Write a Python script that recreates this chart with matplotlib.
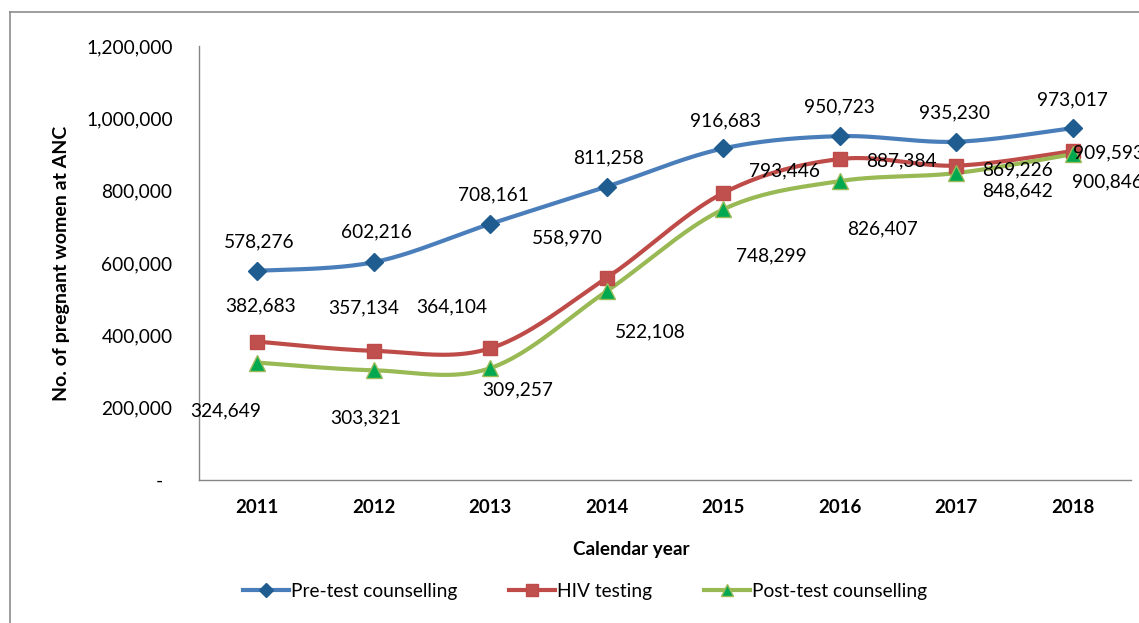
import numpy as np
import matplotlib
matplotlib.use("Agg")
import matplotlib.pyplot as plt
from matplotlib.lines import Line2D
from matplotlib.ticker import FuncFormatter

plt.rcParams["font.family"] = ["Lato", "DejaVu Sans"]

years = ["2011", "2012", "2013", "2014", "2015", "2016", "2017", "2018"]
pre_test = [578276, 602216, 708161, 811258, 916683, 950723, 935230, 973017]
hiv_testing = [382683, 357134, 364104, 558970, 793446, 887384, 869226, 909593]
post_test = [324649, 303321, 309257, 522108, 748299, 826407, 848642, 900846]
series_names = ["Pre-test counselling", "HIV testing", "Post-test counselling"]
y_ticks = [0, 200000, 400000, 600000, 800000, 1000000, 1200000]

# label placement (pixels, x right / y up) relative to each point
pre_off = [(2, 29), (3, 30), (3, 29), (2, 29), (2, 28), (0, 29), (-2, 29), (0, 28)]
hiv_off = [(3, 36), (-10, 43), (-38, 41), (-39, 40), (61, 22), (62, -2), (61, -4), (36, -2)]
post_off = [(-32, -48), (-8, -48), (27, -22), (44, -41), (48, -47), (43, -48), (61, -18), (35, -28)]


def smooth(x, y, n=40):
    """Cubic Bezier smoothing through the points (Catmull-Rom style)."""
    pts = np.column_stack([x, y]).astype(float)
    out = []
    for i in range(len(pts) - 1):
        p0 = pts[i - 1] if i > 0 else pts[i]
        p1, p2 = pts[i], pts[i + 1]
        p3 = pts[i + 2] if i + 2 < len(pts) else pts[i + 1]
        c1 = p1 + (p2 - p0) / 6.0
        c2 = p2 - (p3 - p1) / 6.0
        t = np.linspace(0, 1, n)[:, None]
        seg = (1 - t) ** 3 * p1 + 3 * (1 - t) ** 2 * t * c1 + 3 * (1 - t) * t ** 2 * c2 + t ** 3 * p2
        out.append(seg if i == 0 else seg[1:])
    return np.vstack(out)


W, H = 1139, 623
fig = plt.figure(figsize=(W / 100, H / 100), dpi=100)
ax = fig.add_axes([199 / W, 1 - 480 / H, 932 / W, 434 / H])

x = np.arange(len(years))
styles = [
    dict(color="#4A7EBB", marker="D", mfc="#1F5C8F", mec="#1F5C8F", ms=9.5),
    dict(color="#BE4B48", marker="s", mfc="#C0504D", mec="#BE4B48", ms=10.5),
    dict(color="#98B954", marker="^", mfc="#00A84F", mec="#9BBB59", ms=11),
]
data = [pre_test, hiv_testing, post_test]
offsets = [pre_off, hiv_off, post_off]

handles = []
for vals, st, offs, name in zip(data, styles, offsets, series_names):
    curve = smooth(x, vals)
    ax.plot(curve[:, 0], curve[:, 1], color=st["color"], lw=3.0, solid_capstyle="round", zorder=3)
    ax.plot(x, vals, ls="none", marker=st["marker"], mfc=st["mfc"], mec=st["mec"],
            ms=st["ms"], mew=1.0, zorder=4)
    for xi, v, (dx, dy) in zip(x, vals, offs):
        ax.annotate(f"{v:,}", (xi, v), xytext=(dx, dy), textcoords="offset pixels",
                    ha="center", va="center", fontsize=13.8, color="black",
                    annotation_clip=False, zorder=5)
    handles.append(Line2D([], [], color=st["color"], lw=3.0, marker=st["marker"],
                          mfc=st["mfc"], mec=st["mec"], ms=st["ms"] * 0.8, mew=1.0))

ax.set_xlim(-0.5, len(years) - 0.5)
ax.set_ylim(0, 1200000)
ax.set_xticks(x)
ax.set_xticklabels(years, fontsize=13.4, fontweight="bold")
ax.set_yticks(y_ticks)
ax.yaxis.set_major_formatter(FuncFormatter(lambda v, p: "-  " if v == 0 else f"{int(v):,}"))
ax.tick_params(axis="y", length=0, pad=19, labelsize=13.8)
ax.tick_params(axis="x", length=0, pad=14)

for side in ["top", "right"]:
    ax.spines[side].set_visible(False)
for side in ["left", "bottom"]:
    ax.spines[side].set_color("#868686")
    ax.spines[side].set_linewidth(1.0)

fig.text(62 / W, 1 - 263 / H, "No. of pregnant women at ANC", rotation=90,
         ha="center", va="center", fontsize=14, fontweight="bold")
fig.text(631 / W, 1 - 549 / H, "Calendar year", ha="center", va="center",
         fontsize=13.6, fontweight="bold")

fig.legend(handles, series_names, loc="center", bbox_to_anchor=(585 / W, 1 - 591 / H),
           ncol=3, frameon=False, fontsize=13.8, handlelength=2.4, handletextpad=0.1,
           columnspacing=2.7)

# chart border
bx, by = 10 / W, 1 - 12 / H
fig.add_artist(Line2D([bx, bx], [0, by], transform=fig.transFigure, color="#8C8C8C", lw=1.2))
fig.add_artist(Line2D([bx, 1], [by, by], transform=fig.transFigure, color="#8C8C8C", lw=1.2))

fig.savefig("out.png", dpi=100)
